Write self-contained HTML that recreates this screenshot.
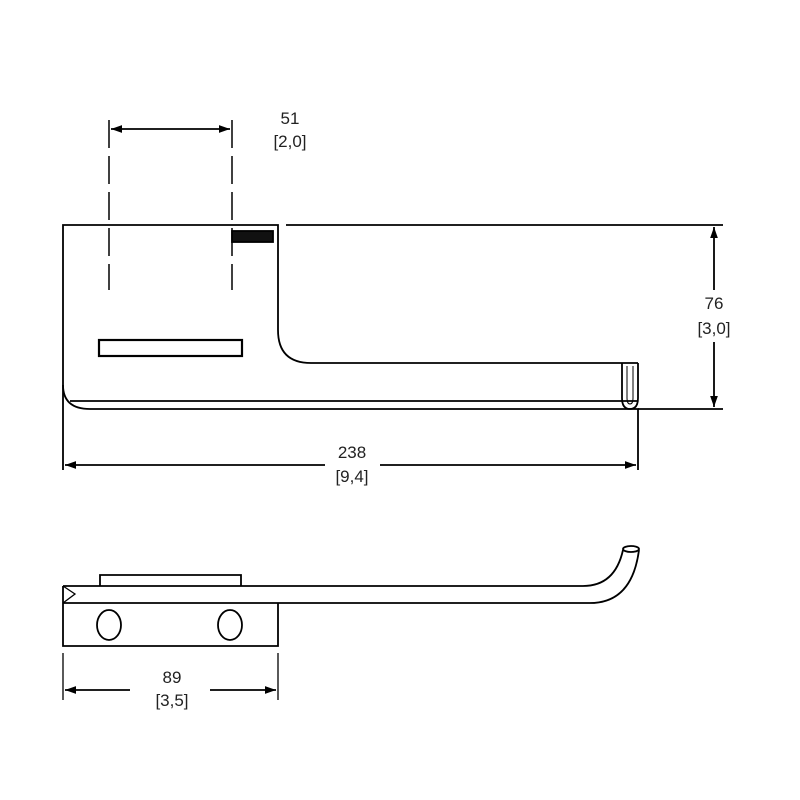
<!DOCTYPE html>
<html><head><style>body{margin:0;background:#fff}svg{display:block}text{font-family:"Liberation Sans",sans-serif;font-size:17px;fill:#222;text-anchor:middle}</style></head>
<body>
<svg width="800" height="800" viewBox="0 0 800 800" xmlns="http://www.w3.org/2000/svg">
<defs><marker id="a" viewBox="0 0 10 10" refX="10" refY="5" markerWidth="11" markerHeight="11" markerUnits="userSpaceOnUse" orient="auto-start-reverse"><path d="M0,1.5 L10,5 L0,8.5z" fill="#000"/></marker></defs>
<g fill="none" stroke="#000" stroke-width="1.8">
<path d="M63,470 V225 H278 V330 Q278,363 311,363 H638"/>
<path d="M286,225 H723"/>
<path d="M63,385 Q63,409 90,409 H638 V470"/>
<path d="M70,401 H638"/>
<path d="M638,409 H723"/>
<path d="M622,363 V398 Q622,409 630,409 Q638,409 638,398 V363"/>
<path d="M627,366 V398 Q627,404 630,404 Q633,404 633,398 V366" stroke-width="1"/>
<rect x="99" y="340" width="143" height="16" stroke-width="2.2"/>
<rect x="232" y="231" width="41" height="11" fill="#111"/>
<path d="M109,120 V290 M232,120 V290" stroke-dasharray="28,8" stroke-width="1.5"/>
<path d="M111,129 H230" marker-start="url(#a)" marker-end="url(#a)"/>
<path d="M714,227 V290" marker-start="url(#a)"/>
<path d="M714,342 V407" marker-end="url(#a)"/>
<path d="M65,465 H325" marker-start="url(#a)"/>
<path d="M380,465 H636" marker-end="url(#a)"/>
<path d="M100,586 V575 H241 V586"/>
<path d="M63,586 H583 Q615,586 623,550"/>
<path d="M63,603 H590 Q632,603 639,550"/>
<ellipse cx="631" cy="549" rx="8" ry="3"/>
<path d="M63,586 V646 H278 V603"/>
<path d="M63,586 L75,594 L63,603" stroke-width="1.3"/>
<ellipse cx="109" cy="625" rx="12" ry="15"/>
<ellipse cx="230" cy="625" rx="12" ry="15"/>
<path d="M63,653 V700 M278,653 V700" stroke-width="1.3"/>
<path d="M65,690 H130" marker-start="url(#a)"/>
<path d="M210,690 H276" marker-end="url(#a)"/>
</g>
<text x="290" y="124">51</text><text x="290" y="147">[2,0]</text>
<text x="714" y="309">76</text><text x="714" y="334">[3,0]</text>
<text x="352" y="458">238</text><text x="352" y="482">[9,4]</text>
<text x="172" y="683">89</text><text x="172" y="706">[3,5]</text>
</svg>
</body></html>
